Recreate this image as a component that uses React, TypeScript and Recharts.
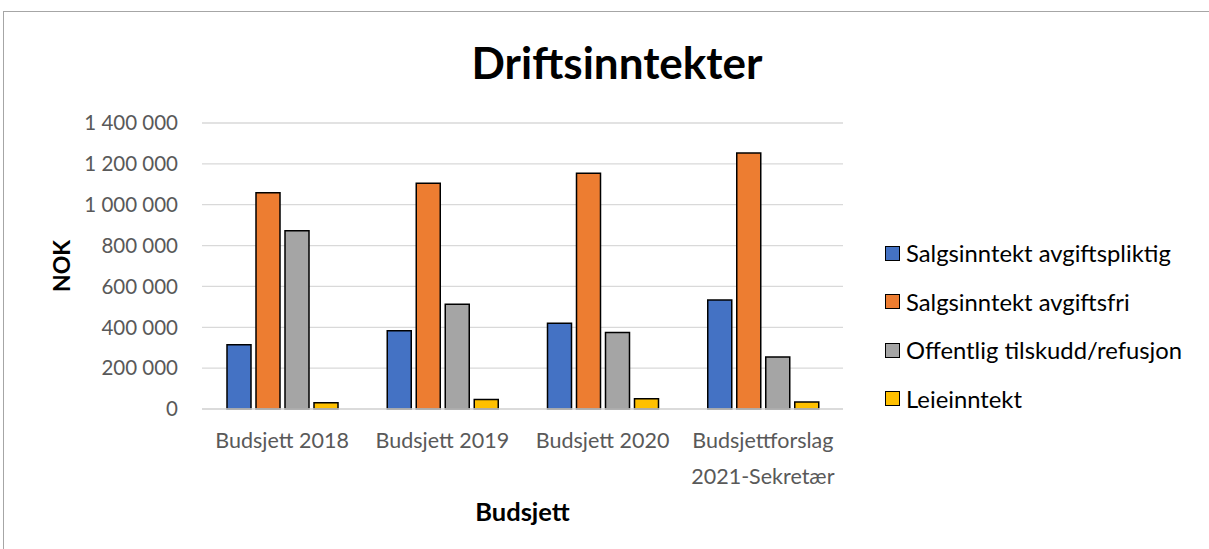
import React from 'react';
import { BarChart, Bar, XAxis, YAxis, CartesianGrid } from 'recharts';

const categories = ['Budsjett 2018', 'Budsjett 2019', 'Budsjett 2020', 'Budsjettforslag 2021-Sekretær'];
const salgsAvgiftspliktig = [315000, 383000, 420000, 534000];
const salgsAvgiftsfri = [1058000, 1105000, 1154000, 1253000];
const offentligTilskudd = [872000, 513000, 375000, 254000];
const leieinntekt = [30000, 47000, 50000, 34000];
const yTicks = [0, 200000, 400000, 600000, 800000, 1000000, 1200000, 1400000];

const seriesNames = ['Salgsinntekt avgiftspliktig', 'Salgsinntekt avgiftsfri', 'Offentlig tilskudd/refusjon', 'Leieinntekt'];
const seriesKeys = ['a', 'b', 'c', 'd'];
const seriesColors = ['#4472C4', '#ED7D31', '#A5A5A5', '#FFC000'];

const data = categories.map((name, i) => ({
  name,
  a: salgsAvgiftspliktig[i],
  b: salgsAvgiftsfri[i],
  c: offentligTilskudd[i],
  d: leieinntekt[i],
}));

const FONT = 'Lato, "Open Sans", sans-serif';
const W = 1226;
const H = 560;

const fmt = (v: number) => String(v).replace(/\B(?=(\d{3})+(?!\d))/g, ' ');

const XTick = (props: any) => {
  const { x, y, payload } = props;
  const label: string = payload.value;
  const lines = label.length > 15 ? [label.slice(0, label.indexOf(' ')), label.slice(label.indexOf(' ') + 1)] : [label];
  return (
    <text x={x} y={y} textAnchor="middle" fill="#595959" fontSize={21.5} fontFamily={FONT}>
      {lines.map((l, i) => (
        <tspan key={i} x={x} dy={i === 0 ? 31 : 36}>{l}</tspan>
      ))}
    </text>
  );
};

const LegendBox = () => (
  <div style={{ position: 'absolute', left: 881, top: 217, width: 340, fontFamily: FONT }}>
    {seriesNames.map((n, i) => (
      <div key={n} style={{ display: 'flex', alignItems: 'center', height: 48.5 }}>
        <div style={{ width: 13, height: 13, background: seriesColors[i], border: '1.5px solid #000', marginRight: 6 }} />
        <span style={{ fontSize: 23.8, color: '#000', whiteSpace: 'nowrap' }}>{n}</span>
      </div>
    ))}
  </div>
);

export default function App() {
  return (
    <div style={{ position: 'fixed', left: 0, top: 0, width: 1209, height: 549, overflow: 'hidden', background: '#fff' }}>
      <div style={{ position: 'absolute', left: 3, top: 11, width: W, height: H, border: '1px solid #A6A6A6', background: '#fff' }}>
        <div style={{ position: 'absolute', left: 0, top: 24, width: W, textAlign: 'center', fontFamily: FONT, fontWeight: 700, fontSize: 44, lineHeight: '52px', color: '#000' }}>
          Driftsinntekter
        </div>
        <BarChart width={W} height={H} data={data} margin={{ top: 111, right: 387, bottom: 43, left: 78 }} barCategoryGap={25} barGap={5}>
          <CartesianGrid vertical={false} stroke="#D9D9D9" strokeWidth={1.3} />
          <XAxis
            dataKey="name"
            height={120}
            tickLine={false}
            axisLine={{ stroke: '#D9D9D9', strokeWidth: 1.3 }}
            tick={<XTick />}
            interval={0}
            label={(p: any) => {
              const vb = p.viewBox;
              return (
                <text x={vb.x + vb.width / 2} y={vb.y + 102} textAnchor="middle" dominantBaseline="central" fontFamily={FONT} fontWeight={700} fontSize={25.5} fill="#000">
                  Budsjett
                </text>
              );
            }}
          />
          <YAxis
            width={120}
            domain={[0, 1400000]}
            ticks={yTicks}
            interval={0}
            tickLine={false}
            axisLine={false}
            tickSize={0}
            tickMargin={24}
            tickFormatter={fmt}
            tick={{ fill: '#595959', fontSize: 20.5, fontFamily: FONT }}
            label={(p: any) => {
              const vb = p.viewBox;
              const cx = 57;
              const cy = vb.y + vb.height / 2;
              return (
                <text x={cx} y={cy} transform={`rotate(-90 ${cx} ${cy})`} textAnchor="middle" dominantBaseline="central" fontFamily={FONT} fontWeight={700} fontSize={23} fill="#000">
                  NOK
                </text>
              );
            }}
          />
          {seriesKeys.map((k, i) => (
            <Bar key={k} dataKey={k} name={seriesNames[i]} fill={seriesColors[i]} stroke="#000" strokeWidth={1.5} isAnimationActive={false} />
          ))}
        </BarChart>
        <LegendBox />
      </div>
    </div>
  );
}
